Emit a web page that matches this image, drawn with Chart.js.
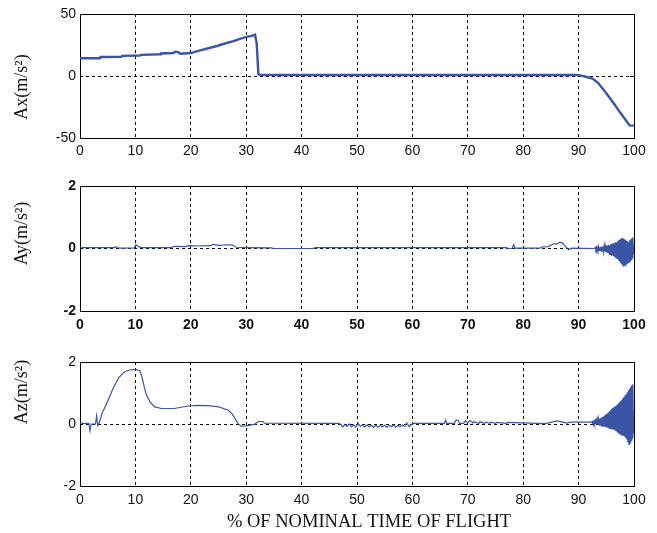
<!DOCTYPE html>
<html>
<head>
<meta charset="utf-8">
<script src="https://cdn.jsdelivr.net/npm/chart.js@4.4.0/dist/chart.umd.min.js"></script>
<style>
  body { margin: 0; background: #fff; }
  .panel { position: absolute; left: 0; width: 657px; }
</style>
</head>
<body>
<div class="panel" style="top:0;height:170px"><canvas id="axChart"></canvas></div>
<div class="panel" style="top:170px;height:170px"><canvas id="ayChart"></canvas></div>
<div class="panel" style="top:340px;height:193px"><canvas id="azChart"></canvas></div>
<script>
'use strict';

// x axis: percent of nominal flight time
let xTicks = [0, 10, 20, 30, 40, 50, 60, 70, 80, 90, 100];
let axTicks = [-50, 0, 50];
let ayTicks = [-2, 0, 2];
let azTicks = [-2, 0, 2];

// Ax (m/s^2)
let axTime = [
  0, 3.6, 3.7, 7.5, 7.6, 10.8, 11, 14.5, 14.6, 16.8,
  17.3, 17.8, 18.1, 20, 21.7, 23, 24.7, 26, 27.7, 29,
  30.1, 31, 31.6, 31.9, 32.2, 32.5, 89.6, 90.5, 91.5, 92.5,
  93.5, 94.5, 95.5, 96.5, 97.5, 98.5, 99.2, 100
];
let axValues = [
  14.3, 14.3, 15.3, 15.5, 16.2, 16.5, 17, 17.6, 18.2, 18.6,
  19.6, 19, 18, 18.5, 20.6, 22.2, 24.2, 26, 28.2, 30.2,
  31.5, 32.3, 33.4, 26, 1.5, 0.8, 0.8, 0.3, -0.8, -2,
  -5.5, -11, -17, -23, -29.5, -35.5, -39.8, -40
];

// Ay (m/s^2)
let ayTime = [
  0, 6, 6.5, 7, 9.8, 10.1, 10.4, 11, 16.5, 17,
  19, 19.5, 21, 23.5, 24, 25, 26.5, 27.5, 28.2, 30,
  34.5, 35, 42, 42.5, 77, 77.2, 78, 78.3, 78.5, 83,
  83.5, 84.5, 85.5, 86, 86.5, 87, 87.7, 88.2, 88.8, 92.8,
  93, 93.1, 93.2, 93.3, 93.4, 93.5, 93.6, 93.7, 93.8, 93.9,
  94, 94.1, 94.2, 94.3, 94.4, 94.5, 94.6, 94.7, 94.8, 94.9,
  95, 95.1, 95.2, 95.3, 95.4, 95.5, 95.6, 95.7, 95.8, 95.9,
  96, 96.1, 96.2, 96.3, 96.4, 96.5, 96.6, 96.7, 96.8, 96.9,
  97, 97.1, 97.2, 97.3, 97.4, 97.5, 97.6, 97.7, 97.8, 97.9,
  98, 98.1, 98.2, 98.3, 98.4, 98.5, 98.6, 98.7, 98.8, 98.9,
  99, 99.1, 99.2, 99.3, 99.4, 99.5, 99.6, 99.7, 99.8, 99.9,
  100
];
let ayValues = [
  0.03, 0.03, 0.05, 0.01, 0.02, 0.12, 0.07, 0.03, 0.03, 0.07,
  0.06, 0.09, 0.08, 0.09, 0.13, 0.1, 0.12, 0.11, 0.04, 0.03,
  0.02, 0, 0, 0.03, 0.03, 0, 0, 0.12, 0.01, 0.01,
  0.05, 0.06, 0.15, 0.14, 0.2, 0.19, 0.05, -0.04, 0.01, 0,
  0.03, -0.03, 0.04, -0.04, 0.03, -0.05, 0.05, -0.06, 0.04, -0.07,
  0.06, -0.08, 0.05, -0.09, 0.07, -0.1, 0.08, -0.09, 0.07, -0.12,
  0.1, -0.13, 0.09, -0.15, 0.12, -0.17, 0.1, -0.19, 0.14, -0.21,
  0.15, -0.2, 0.17, -0.24, 0.16, -0.27, 0.2, -0.3, 0.19, -0.33,
  0.22, -0.35, 0.26, -0.38, 0.28, -0.44, 0.31, -0.47, 0.33, -0.52,
  0.34, -0.58, 0.3, -0.55, 0.28, -0.57, 0.24, -0.5, 0.22, -0.48,
  0.2, -0.44, 0.26, -0.4, 0.3, -0.35, 0.33, -0.3, 0.36, -0.2,
  0.1
];

// Az (m/s^2)
let azTime = [
  0, 1.6, 1.8, 2, 2.8, 3, 3.2, 3.5, 4, 5,
  6, 7, 8, 9, 10, 10.8, 11.2, 11.6, 12, 12.7,
  13.5, 14.7, 17, 19.5, 21, 23.1, 25, 26.7, 27.5, 28.5,
  29.1, 30, 31.5, 32.2, 33, 33.3, 46.6,
  47, 47.4, 47.8, 48.2, 48.6, 49, 49.4, 49.8, 50.2, 50.6,
  51, 51.4, 51.8, 52.2, 52.6, 53, 53.4, 53.8, 54.2, 54.6,
  55, 55.4, 55.8, 56.2, 56.6, 57, 57.4, 57.8, 58.2, 58.6,
  59, 59.4, 59.8,
  60.2, 65.8, 66, 66.2, 67.6, 67.8, 68.3, 68.5, 69.2, 69.6,
  70, 70.4, 70.9, 71, 72, 72.2, 73, 73.2, 74, 74.2,
  75, 75.2, 77, 77.2, 84, 85, 86, 87, 87.8, 88.5,
  92.2,
  92.4, 92.5, 92.6, 92.7, 92.8, 92.9, 93, 93.1, 93.2, 93.3,
  93.4, 93.5, 93.6, 93.7, 93.8, 93.9, 94, 94.1, 94.2, 94.3,
  94.4, 94.5, 94.6, 94.7, 94.8, 94.9, 95, 95.1, 95.2, 95.3,
  95.4, 95.5, 95.6, 95.7, 95.8, 95.9, 96, 96.1, 96.2, 96.3,
  96.4, 96.5, 96.6, 96.7, 96.8, 96.9, 97, 97.1, 97.2, 97.3,
  97.4, 97.5, 97.6, 97.7, 97.8, 97.9, 98, 98.1, 98.2, 98.3,
  98.4, 98.5, 98.6, 98.7, 98.8, 98.9, 99, 99.1, 99.2, 99.3,
  99.4, 99.5, 99.6, 99.7, 99.8, 99.9, 100
];
let azValues = [
  0.02, 0.02, -0.22, 0, 0, 0.27, -0.05, 0.05, 0.35, 0.74,
  1.15, 1.5, 1.68, 1.75, 1.76, 1.72, 1.5, 1.2, 0.93, 0.7,
  0.55, 0.5, 0.5, 0.58, 0.6, 0.59, 0.55, 0.45, 0.32, 0.02,
  -0.07, -0.06, -0.01, 0.08, 0.08, 0.03, 0.02,
  0, -0.1, -0.02, -0.08, 0, -0.09, -0.03, -0.1, 0.02, -0.08,
  -0.02, -0.1, -0.03, -0.09, -0.04, -0.1, -0.04, -0.1, -0.04, -0.09,
  -0.04, -0.1, -0.04, -0.09, -0.03, -0.1, -0.04, -0.09, -0.03, -0.08,
  0.03, -0.08, -0.02,
  0.02, 0.02, 0.13, 0.02, 0.02, 0.12, 0.12, 0.02, 0.02, 0.11,
  0.03, 0.12, 0.03, 0.07, 0.02, 0.07, 0.02, 0.06, 0.02, 0.06,
  0.02, 0.05, 0.02, 0.05, 0.01, 0.05, 0.1, 0.07, 0.03, 0.06,
  0.06,
  0.07, 0.03, 0.08, 0.02, 0.09, 0.01, 0.1, 0, 0.12, -0.01,
  0.13, -0.02, 0.15, -0.03, 0.17, -0.04, 0.2, -0.05, 0.21, -0.07,
  0.23, -0.09, 0.26, -0.08, 0.29, -0.1, 0.32, -0.11, 0.35, -0.12,
  0.38, -0.13, 0.41, -0.14, 0.45, -0.15, 0.5, -0.16, 0.52, -0.18,
  0.55, -0.2, 0.57, -0.22, 0.6, -0.25, 0.63, -0.28, 0.66, -0.3,
  0.7, -0.32, 0.74, -0.34, 0.78, -0.36, 0.83, -0.38, 0.88, -0.4,
  0.93, -0.45, 0.97, -0.5, 1.02, -0.6, 1.09, -0.66, 1.14, -0.6,
  1.2, -0.52, 1.25, -0.45, 1.28, -0.3, 0.4
];

let lineColor = '#3a55a6';
let tickFont = '"Liberation Sans", Arial, sans-serif';
let titleFont = '"Liberation Serif", "Times New Roman", serif';

// box around the plot, inward ticks and the rotated captions
const framePlugin = {
  id: 'frame',
  beforeDatasetsDraw(chart) {
    let a = chart.chartArea;
    let ctx = chart.ctx;
    let yScale = chart.scales.y;
    ctx.save();
    ctx.strokeStyle = '#000';
    ctx.lineWidth = 1;
    ctx.strokeRect(Math.round(a.left) + 0.5, Math.round(a.top) + 0.5,
      Math.round(a.right - a.left), Math.round(a.bottom - a.top));
    ctx.beginPath();
    yScale.ticks.forEach(t => {
      let py = Math.round(yScale.getPixelForValue(t.value)) + 0.5;
      ctx.moveTo(a.right, py);
      ctx.lineTo(a.right - 4, py);
    });
    ctx.stroke();
    ctx.restore();
  },
  afterDraw(chart, args, opts) {
    let a = chart.chartArea;
    let ctx = chart.ctx;
    ctx.save();
    ctx.fillStyle = '#111';
    ctx.textAlign = 'center';
    ctx.textBaseline = 'middle';
    if (opts.yTitle) {
      ctx.font = '18px ' + titleFont;
      ctx.translate(opts.yTitleX, (a.top + a.bottom) / 2 + opts.yTitleShift);
      ctx.rotate(-Math.PI / 2);
      ctx.fillText(opts.yTitle, 0, 0);
      ctx.setTransform(1, 0, 0, 1, 0, 0);
    }
    if (opts.xTitle) {
      ctx.font = '18.5px ' + titleFont;
      ctx.fillText(opts.xTitle, (a.left + a.right) / 2 + opts.xTitleShift, a.bottom + opts.xTitleGap);
    }
    ctx.restore();
  }
};

function drawPanel(id, time, values, yTicks, cfg) {
  let points = time.map((t, i) => ({ x: t, y: values[i] }));
  let font = { family: tickFont, size: 14, weight: cfg.bold ? 'bold' : 'normal' };
  return new Chart(document.getElementById(id), {
    type: 'line',
    data: {
      datasets: [{
        data: points,
        borderColor: lineColor,
        borderWidth: cfg.lineWidth,
        pointRadius: 0,
        tension: 0,
        fill: false
      }]
    },
    options: {
      responsive: true,
      maintainAspectRatio: false,
      animation: false,
      layout: { padding: { top: cfg.top, right: 23, bottom: 0, left: 0 } },
      plugins: {
        legend: { display: false },
        tooltip: { enabled: false },
        frame: cfg.captions
      },
      scales: {
        x: {
          type: 'linear',
          min: 0,
          max: 100,
          afterBuildTicks: s => { s.ticks = xTicks.map(v => ({ value: v })); },
          afterFit: s => { s.height = cfg.xHeight; },
          ticks: { color: '#111', font: font, padding: cfg.xPad, maxRotation: 0, autoSkip: false },
          grid: {
            drawTicks: false,
            color: c => (c.tick && (c.tick.value === 0 || c.tick.value === 100)) ? 'rgba(0,0,0,0)' : '#000'
          },
          border: { display: false, dash: [3, 3] }
        },
        y: {
          min: yTicks[0],
          max: yTicks[yTicks.length - 1],
          afterBuildTicks: s => { s.ticks = yTicks.map(v => ({ value: v })); },
          afterFit: s => { s.width = 80; },
          ticks: { color: '#111', font: font, padding: 4 },
          grid: {
            drawTicks: false,
            color: c => (c.tick && c.tick.value === 0) ? '#000' : 'rgba(0,0,0,0)'
          },
          border: { display: false, dash: [3, 3] }
        }
      }
    },
    plugins: [framePlugin]
  });
}

drawPanel('axChart', axTime, axValues, axTicks, {
  top: 14, xHeight: 32, xPad: 5, lineWidth: 2.4, bold: false,
  captions: { yTitle: 'Ax(m/s²)', yTitleX: 22, yTitleShift: 11 }
});
drawPanel('ayChart', ayTime, ayValues, ayTicks, {
  top: 16, xHeight: 29, xPad: 6, lineWidth: 1.2, bold: true,
  captions: { yTitle: 'Ay(m/s²)', yTitleX: 22, yTitleShift: -15 }
});
drawPanel('azChart', azTime, azValues, azTicks, {
  top: 22, xHeight: 47, xPad: 6, lineWidth: 1.2, bold: false,
  captions: { yTitle: 'Az(m/s²)', yTitleX: 22, yTitleShift: -32,
    xTitle: '% OF NOMINAL TIME OF FLIGHT', xTitleShift: 12, xTitleGap: 36 }
});
</script>
</body>
</html>
